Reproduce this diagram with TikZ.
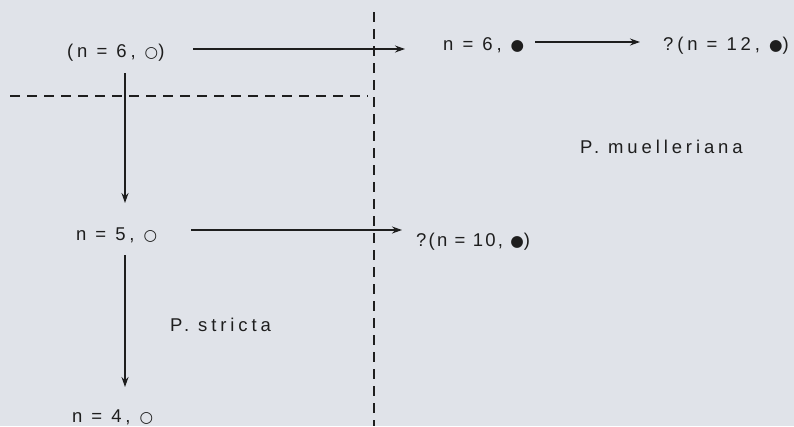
\documentclass[tikz,border=0pt]{standalone}
\usepackage{fontspec}
\setmainfont{Liberation Sans}[LetterSpace=21]
\newfontfamily\sym{DejaVu Sans}
\usetikzlibrary{arrows.meta,calc}
\definecolor{bg}{HTML}{E0E3E9}
\definecolor{ink}{HTML}{1E1E1E}
\newcommand{\wc}{{\sym\fontsize{15.5}{15.5}\selectfont ○}}
\newcommand{\bc}{{\sym\fontsize{15.5}{15.5}\selectfont ●}}
\tikzset{
  lab/.style={inner sep=0pt, anchor=base west, text=ink, font=\fontsize{18.5}{21}\selectfont},
  arr/.style={draw=ink, line width=1.3pt, -{Stealth[length=10pt,width=7pt]}},
  dsh/.style={draw=ink, line width=1.1pt, dash pattern=on 10pt off 7pt},
}
\begin{document}
\begin{tikzpicture}[x=1pt,y=-1pt]
\fill[bg] (0,0) rectangle (794,426);
\useasboundingbox (0,0) rectangle (794,426);
% dashed separators
\coordinate (vt) at (374,12);
\coordinate (vb) at (374,426);
\coordinate (hl) at (10,96);
\coordinate (hr) at (368,96);
\draw[dsh] (vt) -- (vb);
\draw[dsh] (hl) -- (hr);
% labels
\node[lab] (n6o) at (67,57) {(n = 6, \wc)};
\node[lab] (n6b) at (443,50) {n = 6, \bc};
\node[lab] (n12) at (663,50) {?(n = 12, \bc)};
\node[lab] (n5) at (76,240) {n = 5, \wc};
\node[lab] (n10) at (416,246) {\addfontfeatures{LetterSpace=12}?(n = 10, \bc)};
\node[lab] (n4) at (72,422) {n = 4, \wc};
\node[lab] (pm) at (580,153) {P. muelleriana};
\node[lab] (ps) at (170,331) {P. stricta};
\coordinate (axis) at (125,0);
% arrows
\draw[arr] ($(n6o.base west)+(126,-8)$) -- ($(n6b.base west)+(-38,-1)$);
\draw[arr] ($(n6b.base west)+(92,-8)$) -- ($(n12.base west)+(-23,-8)$);
\draw[arr] ($(n5.base west)+(115,-10)$) -- ($(n10.base west)+(-14,-16)$);
\draw[arr] ($(n6o.base -| axis)+(0,16)$) -- ($(n5.base -| axis)+(0,-37)$);
\draw[arr] ($(n5.base -| axis)+(0,15)$) -- ($(n4.base -| axis)+(0,-35)$);
\end{tikzpicture}
\end{document}
